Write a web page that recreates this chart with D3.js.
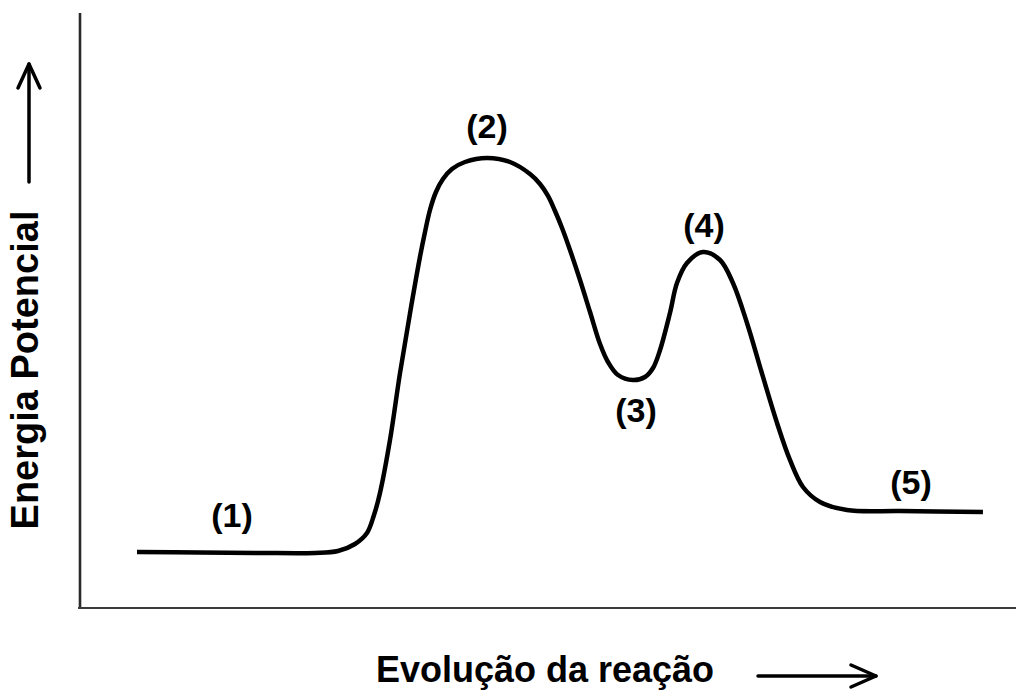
<!DOCTYPE html>
<html>
<head>
<meta charset="utf-8">
<script src="https://cdn.jsdelivr.net/npm/d3@7"></script>
<style>
  html, body { margin: 0; padding: 0; background: #fff; }
  svg { display: block; }
  text { font-family: "Liberation Sans", Arial, sans-serif; font-weight: bold; fill: #000; }
</style>
</head>
<body>
<svg id="chart" width="1016" height="692"></svg>
<script>
// Reaction coordinate (arbitrary units 0-100)
const progress = [6.09, 12.82, 19.23, 25.11, 27.56, 29.38, 30.66, 31.41, 32.05, 33.12,
  34.19, 35.26, 36.32, 36.86, 37.39, 38.03, 38.78, 39.74, 41.13, 43.48,
  45.94, 48.08, 49.15, 50.00, 50.75, 51.50, 52.35, 53.42, 54.49, 55.56,
  56.41, 57.48, 59.08, 60.36, 61.22, 61.97, 63.03, 63.78, 64.85, 66.56,
  68.38, 69.76, 71.26, 72.97, 74.47, 75.85, 77.24, 79.06, 81.94, 87.61, 96.47];
// Potential energy (arbitrary units 0-100)
const energy = [9.24, 9.16, 9.08, 9.08, 9.41, 10.59, 12.44, 15.46, 19.16, 28.07,
  39.33, 49.41, 58.82, 63.03, 66.72, 69.75, 71.93, 73.61, 74.79, 75.46,
  74.79, 72.77, 71.09, 69.08, 66.55, 63.70, 60.00, 54.96, 49.58, 44.20,
  41.18, 38.99, 38.15, 38.66, 40.17, 43.19, 49.41, 54.45, 57.82, 59.66,
  58.32, 54.45, 47.73, 38.66, 30.92, 24.71, 20.17, 17.65, 16.30, 16.13, 15.97];

// Point labels and their anchor positions (data units)
const pointLabels = ["(1)", "(2)", "(3)", "(4)", "(5)"];
const labelProgress = [16.24, 43.48, 59.40, 66.67, 88.78];
const labelEnergy = [13.45, 78.82, 31.09, 62.18, 18.99];

const yAxisTitle = "Energia Potencial";
const xAxisTitle = "Evolução da reação";

const svg = d3.select("#chart");
const x = d3.scaleLinear().domain([0, 100]).range([80, 1016]);
const y = d3.scaleLinear().domain([0, 100]).range([607, 12]);

// Axes (plain lines, no ticks)
svg.append("line")
  .attr("x1", x(0)).attr("x2", x(0))
  .attr("y1", y(100) + 1).attr("y2", y(0) + 1)
  .attr("stroke", "#2a2a2a").attr("stroke-width", 2.6);
svg.append("line")
  .attr("x1", x(0) - 2).attr("x2", x(100))
  .attr("y1", y(0) + 1).attr("y2", y(0) + 1)
  .attr("stroke", "#3a3a3a").attr("stroke-width", 2.2);

// Energy curve
const pts = progress.map((p, i) => [p, energy[i]]);
const line = d3.line().x(d => x(d[0])).y(d => y(d[1])).curve(d3.curveCatmullRom.alpha(0.5));
svg.append("path")
  .attr("d", line(pts))
  .attr("fill", "none")
  .attr("stroke", "#000")
  .attr("stroke-width", 4.5)
  .attr("stroke-linejoin", "round")
  .attr("stroke-linecap", "butt");

// Point labels
svg.selectAll("text.pl")
  .data(pointLabels)
  .enter().append("text")
  .attr("class", "pl")
  .attr("x", (d, i) => x(labelProgress[i]))
  .attr("y", (d, i) => y(labelEnergy[i]))
  .attr("text-anchor", "middle")
  .attr("font-size", 34)
  .text(d => d);

// Y axis title (rotated) with arrow
svg.append("text")
  .attr("transform", "translate(38,370) rotate(-90)")
  .attr("text-anchor", "middle")
  .attr("font-size", 38)
  .text(yAxisTitle);

const arrowStroke = { stroke: "#000", "stroke-width": 3.5, fill: "none", "stroke-linecap": "round", "stroke-linejoin": "round" };
function styleArrow(sel) { Object.entries(arrowStroke).forEach(([k, v]) => sel.attr(k, v)); return sel; }

styleArrow(svg.append("line").attr("x1", 29).attr("x2", 29).attr("y1", 182).attr("y2", 64));
styleArrow(svg.append("path").attr("d", "M18,88 L29,64 L40,88"));

// X axis title with arrow
svg.append("text")
  .attr("x", 545).attr("y", 682)
  .attr("text-anchor", "middle")
  .attr("font-size", 36)
  .text(xAxisTitle);

styleArrow(svg.append("line").attr("x1", 758).attr("x2", 876).attr("y1", 676).attr("y2", 676));
styleArrow(svg.append("path").attr("d", "M851,665 L876,676 L851,687"));
</script>
</body>
</html>
